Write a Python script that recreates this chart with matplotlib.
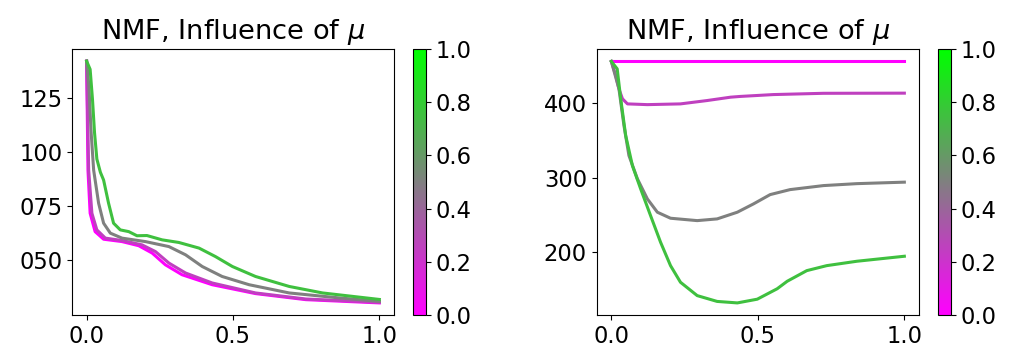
import matplotlib
matplotlib.use("Agg")
import matplotlib.pyplot as plt
from matplotlib.colors import LinearSegmentedColormap
from matplotlib.cm import ScalarMappable
from matplotlib.ticker import StrMethodFormatter, MultipleLocator

# mu values for each curve
mu_values = [0.0, 0.25, 0.5, 0.75]

# left panel: x positions and one y list per mu
left_x = {
    0.0: [0.0, 0.0046, 0.012, 0.029, 0.058, 0.121, 0.178, 0.224, 0.269, 0.326, 0.429, 0.577, 0.749, 1.0],
    0.25: [0.0, 0.007, 0.018, 0.035, 0.064, 0.121, 0.189, 0.235, 0.281, 0.338, 0.429, 0.577, 0.749, 1.0],
    0.5: [0.0, 0.008, 0.015, 0.024, 0.041, 0.058, 0.081, 0.121, 0.201, 0.281, 0.338, 0.395, 0.463,
          0.555, 0.692, 0.863, 1.0],
    0.75: [0.0, 0.012, 0.02, 0.027, 0.035, 0.047, 0.058, 0.075, 0.092, 0.115, 0.144, 0.172, 0.206,
           0.258, 0.315, 0.384, 0.44, 0.498, 0.577, 0.692, 0.806, 1.0],
}
left_y = {
    0.0: [142, 91.7, 71.8, 63.3, 59.8, 58.7, 56.8, 53.4, 48.0, 43.4, 38.8, 34.7, 31.9, 30.4],
    0.25: [142, 91.7, 71.8, 64.1, 60.3, 59.2, 57.2, 54.1, 48.8, 44.2, 39.6, 35.0, 32.2, 30.7],
    0.5: [142, 130, 110, 91.7, 76.4, 67.2, 62.6, 60.3, 58.7, 56.4, 52.6, 47.2, 42.6,
          38.8, 35.0, 32.7, 31.1],
    0.75: [142, 138.2, 124.4, 109, 96.8, 90.7, 87.1, 76.4, 67.2, 64.1, 63.3, 61.4, 61.5,
           59.5, 58.3, 55.7, 51.8, 47.2, 42.6, 38.0, 35.0, 32.0],
}

# right panel
right_x = {
    0.0: [0.0, 1.0],
    0.25: [0.0, 0.015, 0.026, 0.038, 0.055, 0.123, 0.236, 0.327, 0.407, 0.44, 0.553, 0.724, 1.0],
    0.5: [0.0, 0.026, 0.043, 0.06, 0.089, 0.123, 0.157, 0.202, 0.293, 0.361, 0.43, 0.485, 0.542,
          0.61, 0.724, 0.838, 1.0],
    0.75: [0.0, 0.02, 0.032, 0.049, 0.072, 0.1, 0.134, 0.168, 0.202, 0.236, 0.293, 0.361, 0.43,
           0.498, 0.566, 0.6, 0.667, 0.735, 0.838, 1.0],
}
right_y = {
    0.0: [456.4, 456.4],
    0.25: [456, 437, 419, 405.8, 399, 398, 399, 403.5, 408, 409, 411.5, 413.2, 413.4],
    0.5: [456, 419, 370, 329.7, 298.4, 271.5, 253.7, 245.6, 242.4, 244.7, 253.7, 264.8, 277.3,
          284, 289.4, 292, 294],
    0.75: [456, 446, 405.8, 356.5, 316, 285, 249, 213.4, 182, 159.7, 141.8, 134, 132,
           137, 151, 161, 175.3, 182, 187.9, 194.6],
}

title = r"NMF, Influence of $\mu$"

cmap = LinearSegmentedColormap.from_list("mg", ["#ff00ff", "#808080", "#00ff00"])

plt.rcParams["font.size"] = 16.3

fig = plt.figure(figsize=(10.11, 3.58), dpi=100)

ax1 = fig.add_axes([0.0712, 0.1201, 0.3185, 0.743])
cax1 = fig.add_axes([0.4085, 0.1201, 0.0129, 0.743])
ax2 = fig.add_axes([0.5902, 0.1201, 0.3188, 0.743])
cax2 = fig.add_axes([0.9281, 0.1201, 0.0126, 0.743])

for mu in mu_values:
    ax1.plot(left_x[mu], left_y[mu], color=cmap(mu), lw=2.2)
    ax2.plot(right_x[mu], right_y[mu], color=cmap(mu), lw=2.2)

ax1.set_yticks([50, 75, 100, 125])
ax1.yaxis.set_major_formatter(StrMethodFormatter("{x:03.0f}"))
ax2.yaxis.set_major_locator(MultipleLocator(100))

for ax, cax in [(ax1, cax1), (ax2, cax2)]:
    ax.set_xticks([0.0, 0.5, 1.0])
    ax.set_title(title, fontsize=19.6, pad=7)
    sm = ScalarMappable(cmap=cmap, norm=plt.Normalize(0, 1))
    cb = fig.colorbar(sm, cax=cax)
    cb.set_ticks([0.0, 0.2, 0.4, 0.6, 0.8, 1.0])

fig.savefig("out.png", dpi=100)
